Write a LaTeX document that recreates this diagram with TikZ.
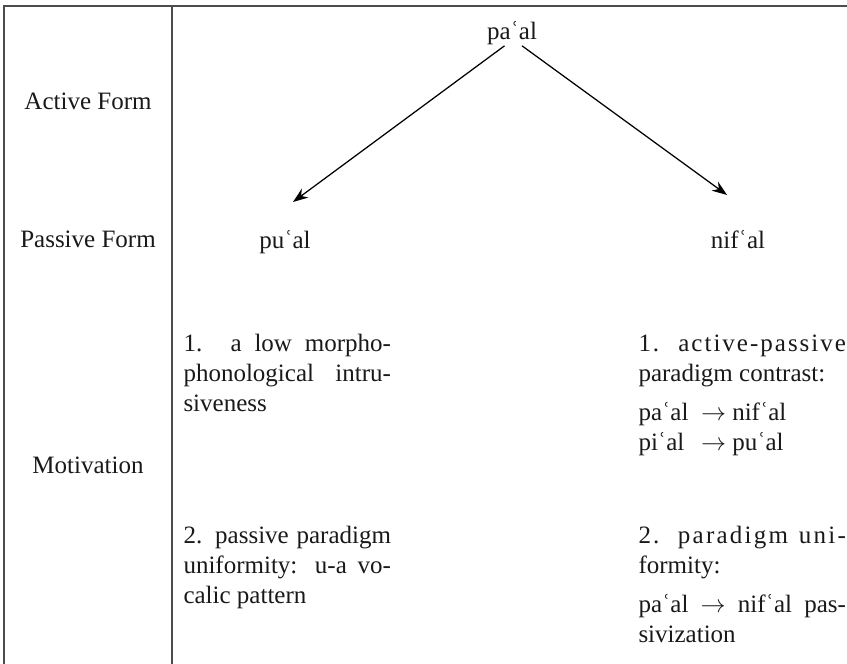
\documentclass[tikz,border=0pt]{standalone}
\usepackage{fontspec}
\setmainfont{Liberation Serif}
\usetikzlibrary{arrows.meta}
\tolerance=9999
\hyphenpenalty=10000
\newcommand{\ay}{ʿ}
\newcommand{\lhs}[1]{\makebox[2.5em][l]{#1}}
\newcommand{\spaced}[2][8]{{\addfontfeature{LetterSpace=#1}#2}}
\tikzset{
  lbl/.style={inner sep=0pt, anchor=base, text=black!90},
  blk/.style={inner sep=0pt, anchor=north west, text width=83pt, align=justify, text=black!90},
  arr/.style={-{Stealth[length=6pt,width=4.4pt]}, line width=0.5pt},
  rule/.style={line width=0.8pt, black!70}
}
\begin{document}
\begin{tikzpicture}[x=0.4pt,y=-0.4pt]
\useasboundingbox (0,0) rectangle (847,664);
% table rules
\draw[rule] (847,6) -- (4,6) -- (4,664);
\draw[rule] (172,6) -- (172,664);
% row labels
\node[lbl] (active) at (88,110) {Active Form};
\node[lbl] (passive) at (88,248) {Passive Form};
\node[lbl] (motiv) at (88,474) {Motivation};
% forms
\node[lbl] (pa) at (512,40) {pa\ay al};
\node[lbl] (pu) at (285,249) {pu\ay al};
\node[lbl] (nif) at (738,249) {nif\ay al};
\coordinate (puTip) at (293,202);
\coordinate (nifTip) at (727,195);
\draw[arr] ([xshift=-3pt]pa.south) -- (puTip);
\draw[arr] ([xshift=4pt]pa.south) -- (nifTip);
% motivations
\node[blk] (mpu1) at (183,330) {\strut 1. a low morpho-\linebreak phonological intru-\linebreak siveness};
\node[blk] (mpu2) at (183,522) {\strut 2. passive paradigm\linebreak uniformity: u-a vo-\linebreak calic pattern};
\node[blk] (mnif1) at (638,330) {\strut \spaced{1. active-passive}\linebreak paradigm contrast:\par\vspace{3.6pt}
  \lhs{pa\ay al}$\rightarrow$ nif\ay al\par \lhs{pi\ay al}$\rightarrow$ pu\ay al};
\node[blk] (mnif2) at (638,522) {\strut \spaced[9]{2. paradigm uni-}\linebreak formity:\par\vspace{3.6pt}
  pa\ay al $\rightarrow$ nif\ay al pas-\linebreak sivization};
\end{tikzpicture}
\end{document}
